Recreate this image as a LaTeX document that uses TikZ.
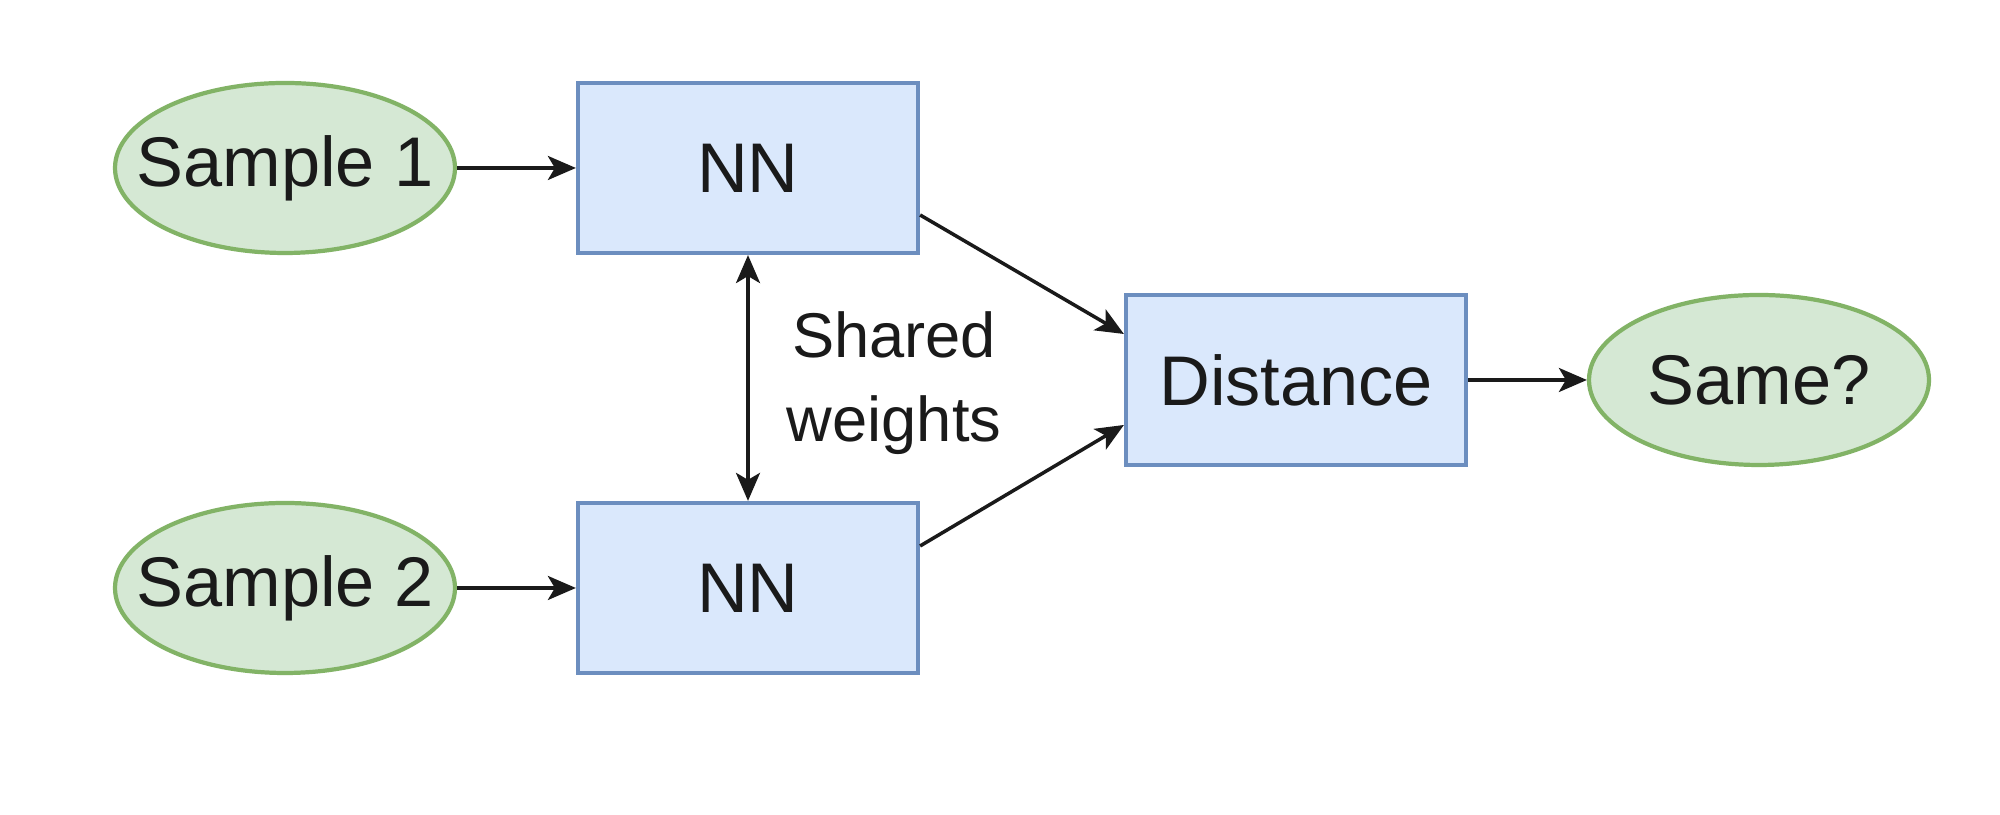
\documentclass[tikz,border=0pt]{standalone}
\usepackage{fontspec}
\setmainfont{Liberation Sans}
\usepackage{tikz}
\usetikzlibrary{arrows.meta}
\usetikzlibrary{positioning}
\usetikzlibrary{shapes.geometric}
\definecolor{netfill}{HTML}{DAE8FC}
\definecolor{netline}{HTML}{6C8EBF}
\definecolor{termfill}{HTML}{D5E8D4}
\definecolor{termline}{HTML}{82B366}
\definecolor{ink}{HTML}{1A1A1A}
\tikzset{
    net/.style = {draw=netline,fill=netfill,line width=1.2pt,minimum width=3.4cm,minimum height=1.7cm,inner sep=0,text=ink,font=\fontsize{20}{24}\selectfont},
    term/.style = {shape=ellipse,draw=termline,fill=termfill,line width=1.2pt,minimum width=3.4cm,minimum height=1.7cm,inner xsep=-0.3cm,inner ysep=0,text=ink,font=\fontsize{20}{24}\selectfont},
    flow/.style = {line width=1pt,draw=ink,-{Stealth[length=0.28cm,width=0.24cm,inset=0.07cm]}},
    tie/.style = {line width=1pt,draw=ink,{Stealth[length=0.28cm,width=0.24cm,inset=0.07cm]}-{Stealth[length=0.28cm,width=0.24cm,inset=0.07cm]}}
}
\begin{document}
\begin{tikzpicture}
        \newcommand*\hsep{4.63}
        \newcommand*\vsep{-4.2}
        \useasboundingbox[fill=white] (0,0) rectangle (20,8.15);
        % Inputs and networks
        \path (2.85,6.47) node[term] (s1) {Sample 1}
            ++(\hsep,0) node[net] (nn1) {NN}
        ;
        \path (s1)
            ++(0,\vsep) node[term] (s2) {Sample 2}
            ++(\hsep,0) node[net] (nn2) {NN}
        ;
        % Comparison
        \path (nn1)
            ++(5.48,-2.12) node[net] (dist) {Distance}
            ++(\hsep,0) node[term] (same) {Same?}
        ;
        \node[align=center,text=ink,font=\fontsize{18}{24}\selectfont] (shared) at (8.94,4.32) {Shared\\weights};
        % Edges
        \foreach \src/\dest in {s1/nn1,s2/nn2,dist/same}
            \draw[flow] (\src) to (\dest);
        \draw[flow] ([yshift=-0.47cm]nn1.east) to ([yshift=0.46cm]dist.west);
        \draw[flow] ([yshift=0.42cm]nn2.east) to ([yshift=-0.45cm]dist.west);
        \draw[tie] (nn1) to (nn2);
    \end{tikzpicture}
\end{document}
